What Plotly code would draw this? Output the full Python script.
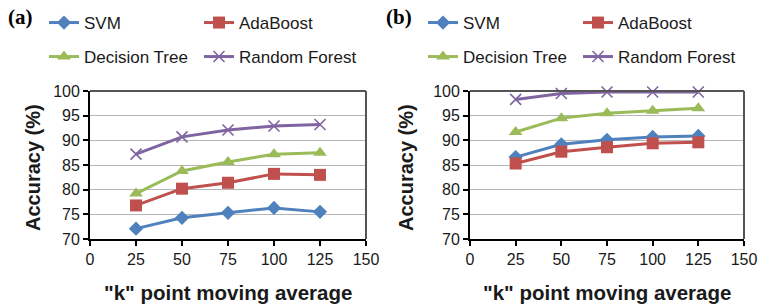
import plotly.graph_objects as go

k_values = [25, 50, 75, 100, 125]
series_names = ["SVM", "AdaBoost", "Decision Tree", "Random Forest"]

# Panel (a)
svm_a = [72.1, 74.3, 75.3, 76.3, 75.5]
ada_a = [76.8, 80.2, 81.4, 83.2, 83.0]
dt_a = [79.2, 83.8, 85.6, 87.2, 87.5]
rf_a = [87.2, 90.7, 92.1, 92.9, 93.2]

# Panel (b)
svm_b = [86.6, 89.2, 90.1, 90.7, 90.9]
ada_b = [85.3, 87.7, 88.6, 89.4, 89.6]
dt_b = [91.7, 94.5, 95.5, 96.0, 96.5]
rf_b = [98.3, 99.5, 99.8, 99.8, 99.8]

x_ticks = [0, 25, 50, 75, 100, 125, 150]
y_ticks = [70, 75, 80, 85, 90, 95, 100]

colors = ["#4F81BD", "#C0504D", "#9BBB59", "#8064A2"]
symbols = ["diamond", "square", "triangle-up", "x-thin"]
sizes = [11, 12, 12, 11]

W, H = 763, 305
FONT = "Liberation Sans, Arial, sans-serif"


def px(x):
    return x / W


def py(y):
    return 1 - y / H


fig = go.Figure()

# legend slot (left x of legend box, y of row centre) for each series in each panel
leg_pos = {
    0: [(44, 23), (199, 23), (44, 57), (199, 57)],
    1: [(423, 23), (578, 23), (423, 57), (578, 57)],
}

panels = [([svm_a, ada_a, dt_a, rf_a], "x", "y"), ([svm_b, ada_b, dt_b, rf_b], "x2", "y2")]
leg_layout = {}
n = 0
for p, (data, xa, ya) in enumerate(panels):
    for i, vals in enumerate(data):
        n += 1
        lname = "legend" if n == 1 else "legend%d" % n
        fig.add_trace(go.Scatter(
            x=k_values, y=vals, name=series_names[i], mode="lines+markers",
            xaxis=xa, yaxis=ya, legend=lname, cliponaxis=False, showlegend=True,
            hoverinfo="skip",
            line=dict(color=colors[i], width=3),
            marker=dict(symbol=symbols[i], size=sizes[i], color=colors[i],
                        line=dict(color=colors[i], width=1.6 if i == 3 else 0)),
        ))
        lx, ly = leg_pos[p][i]
        leg_layout[lname] = dict(x=px(lx), y=py(ly), xanchor="left", yanchor="middle",
                                 itemwidth=30, bgcolor="rgba(0,0,0,0)", itemclick=False,
                                 font=dict(family=FONT, size=17, color="#1a1a1a"))

dom_y = [py(239), py(91)]
dom_xa = [px(90), px(366)]
dom_xb = [px(470), px(744)]

axis_common = dict(showline=True, linecolor="black", linewidth=1.8, ticks="outside",
                   ticklen=5, tickwidth=1.5, tickcolor="black", automargin=False,
                   tickfont=dict(family=FONT, size=16, color="#1a1a1a"), zeroline=False)

fig.update_layout(
    width=W, height=H, margin=dict(l=0, r=0, t=0, b=0, autoexpand=False),
    paper_bgcolor="white", plot_bgcolor="white", showlegend=True, hovermode=False,
    xaxis=dict(domain=dom_xa, range=[0, 150], tickvals=x_ticks, showgrid=False, anchor="y", **axis_common),
    yaxis=dict(domain=dom_y, range=[70, 100], tickvals=y_ticks, showgrid=True, gridcolor="#B5B5B5",
               gridwidth=1.3, anchor="x", **axis_common),
    xaxis2=dict(domain=dom_xb, range=[0, 150], tickvals=x_ticks, showgrid=False, anchor="y2", **axis_common),
    yaxis2=dict(domain=dom_y, range=[70, 100], tickvals=y_ticks, showgrid=True, gridcolor="#B5B5B5",
                gridwidth=1.3, anchor="x2", **axis_common),
    **leg_layout,
)

# plot-area frame (top and right edges)
for xr, yr in [("x domain", "y domain"), ("x2 domain", "y2 domain")]:
    fig.add_shape(type="line", xref=xr, yref=yr, x0=0, x1=1, y0=1, y1=1,
                  line=dict(color="#555555", width=2))
    fig.add_shape(type="line", xref=xr, yref=yr, x0=1, x1=1, y0=0, y1=1,
                  line=dict(color="#555555", width=2))

ann = []
for lab, xp in [("(a)", 20), ("(b)", 399)]:
    ann.append(dict(text="<b>" + lab + "</b>", x=px(xp), y=py(17), xref="paper", yref="paper",
                    showarrow=False, font=dict(family="Liberation Serif, Times New Roman, serif", size=21, color="black"),
                    xanchor="center", yanchor="middle"))
for xc in [228, 607]:
    ann.append(dict(text='<b>"k" point moving average</b>', x=px(xc), y=py(292), xref="paper", yref="paper",
                    showarrow=False, font=dict(family=FONT, size=20.5, color="#1a1a1a"),
                    xanchor="center", yanchor="middle"))
for xc in [33, 406]:
    ann.append(dict(text="<b>Accuracy (%)</b>", x=px(xc), y=py(168), xref="paper", yref="paper",
                    showarrow=False, textangle=-90, font=dict(family=FONT, size=20, color="#1a1a1a"),
                    xanchor="center", yanchor="middle"))
fig.update_layout(annotations=ann)

fig.write_html("out.html", config={"displayModeBar": False},
               post_script="document.body.style.margin='0px';")
